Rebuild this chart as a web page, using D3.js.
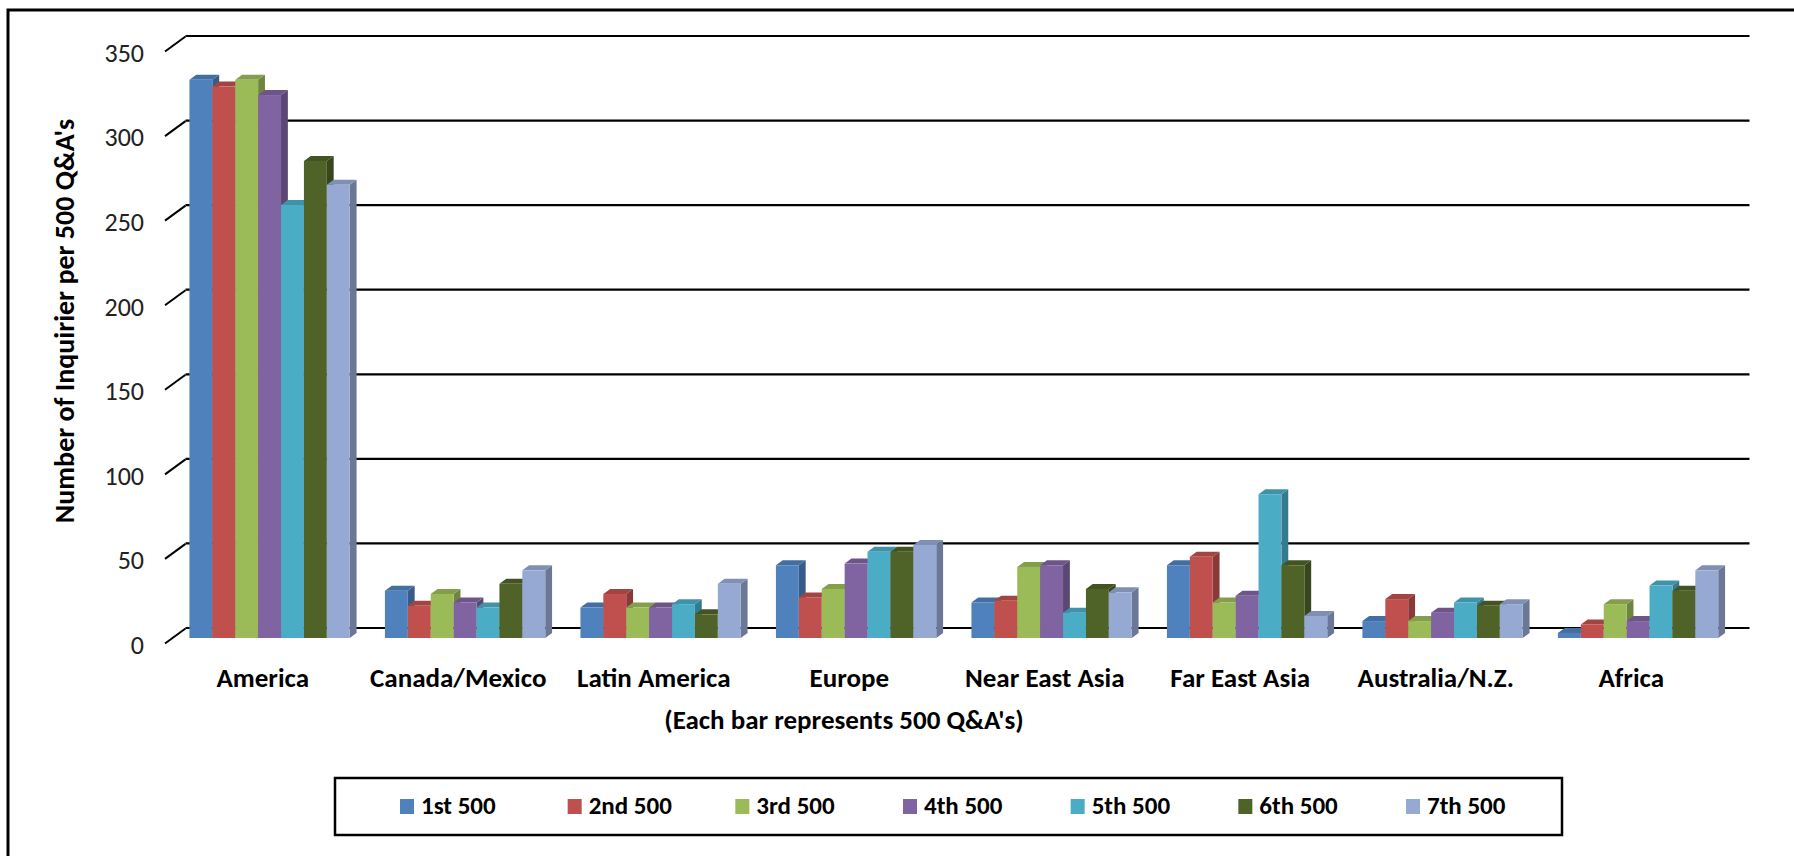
<!DOCTYPE html>
<html>
<head>
<meta charset="utf-8">
<script src="https://cdn.jsdelivr.net/npm/d3@7"></script>
<style>
  body { margin: 0; background: #fff; }
  text { font-family: Carlito, Calibri, Lato, "Open Sans", sans-serif; fill: #000; }
</style>
</head>
<body>
<div id="chart"></div>
<script>
var categories = ["America", "Canada/Mexico", "Latin America", "Europe", "Near East Asia", "Far East Asia", "Australia/N.Z.", "Africa"];
var seriesNames = ["1st 500", "2nd 500", "3rd 500", "4th 500", "5th 500", "6th 500", "7th 500"];
var seriesColors = ["#4f81bd", "#c0504d", "#9bbb59", "#8064a2", "#4bacc6", "#4f6228", "#95a9d3"];
var first500 = [330, 28, 18, 43, 21, 43, 10, 3];
var second500 = [326, 19, 26, 24, 22, 48, 23, 8];
var third500 = [330, 26, 18, 29, 42, 21, 10, 20];
var fourth500 = [321, 21, 18, 44, 43, 25, 15, 10];
var fifth500 = [256, 18, 20, 51, 15, 85, 21, 31];
var sixth500 = [282, 32, 14, 51, 29, 43, 19, 28];
var seventh500 = [268, 40, 32, 55, 27, 13, 20, 40];
var yTicks = [0, 50, 100, 150, 200, 250, 300, 350];

var seriesValues = [first500, second500, third500, fourth500, fifth500, sixth500, seventh500];

var width = 1794, height = 856;
// 3D look: the back wall sits up and to the right of the front plane
var depth = {dx: 20.5, dy: -15};
var barOff = {dx: depth.dx / 3, dy: depth.dy / 3};

var svg = d3.select("#chart").append("svg")
    .attr("width", width)
    .attr("height", height);

svg.append("rect")
    .attr("x", 8).attr("y", 10)
    .attr("width", 1810).attr("height", 900)
    .attr("fill", "none")
    .attr("stroke", "#000")
    .attr("stroke-width", 3);

var x = d3.scaleBand()
    .domain(categories)
    .range([165, 1729])
    .paddingInner(0.18)
    .paddingOuter(0.09);

var x1 = d3.scaleBand()
    .domain(seriesNames)
    .range([0, x.bandwidth()]);

var y = d3.scaleLinear()
    .domain([0, 350])
    .range([643, 51]);

// back wall gridlines
svg.append("g")
  .selectAll("line")
  .data(yTicks)
  .join("line")
    .attr("x1", 165 + depth.dx)
    .attr("x2", 1729 + depth.dx)
    .attr("y1", d => y(d) + depth.dy)
    .attr("y2", d => y(d) + depth.dy)
    .attr("stroke", "#000")
    .attr("stroke-width", 2.2);

// y axis with slanted ticks
var yAxis = svg.append("g")
    .attr("transform", "translate(165,0)")
    .call(d3.axisLeft(y).tickValues(yTicks).tickSize(0).tickPadding(21));
yAxis.select(".domain").remove();
yAxis.selectAll(".tick line").remove();
yAxis.selectAll(".tick").append("line")
    .attr("x1", 0).attr("y1", 0)
    .attr("x2", depth.dx).attr("y2", depth.dy)
    .attr("stroke", "#000")
    .attr("stroke-width", 2);
yAxis.selectAll(".tick text")
    .attr("dy", "0.4em")
    .style("font-size", "26px")
    .style("fill", "#222");

// bars, drawn left to right so each front face hides the previous side
var bars = [];
categories.forEach(function(cat, ci) {
  seriesNames.forEach(function(s, si) {
    bars.push({cat: cat, series: s, value: seriesValues[si][ci], color: seriesColors[si]});
  });
});

var barG = svg.append("g");
bars.forEach(function(b) {
  var x0 = x(b.cat) + x1(b.series) + barOff.dx;
  var w = x1.bandwidth();
  var yTop = y(b.value) + barOff.dy;
  var yBot = y(0) + barOff.dy;
  var c = d3.color(b.color);
  barG.append("path")
      .attr("d", "M" + (x0 + w) + "," + yBot + "L" + (x0 + w + barOff.dx) + "," + (yBot + barOff.dy) +
                 "L" + (x0 + w + barOff.dx) + "," + (yTop + barOff.dy) + "L" + (x0 + w) + "," + yTop + "Z")
      .attr("fill", c.darker(0.95));
  barG.append("path")
      .attr("d", "M" + x0 + "," + yTop + "L" + (x0 + barOff.dx) + "," + (yTop + barOff.dy) +
                 "L" + (x0 + w + barOff.dx) + "," + (yTop + barOff.dy) + "L" + (x0 + w) + "," + yTop + "Z")
      .attr("fill", c.darker(0.45));
  barG.append("rect")
      .attr("x", x0)
      .attr("y", yTop)
      .attr("width", w)
      .attr("height", yBot - yTop)
      .attr("fill", b.color);
});

// category labels
var xAxis = svg.append("g")
    .attr("transform", "translate(0," + y(0) + ")")
    .call(d3.axisBottom(x).tickSize(0));
xAxis.select(".domain").remove();
xAxis.selectAll(".tick text")
    .attr("y", 44)
    .attr("dy", 0)
    .style("font-size", "27px")
    .style("font-weight", "bold");

svg.append("text")
    .attr("transform", "translate(64,321) rotate(-90)")
    .attr("text-anchor", "middle")
    .attr("dominant-baseline", "central")
    .style("font-size", "28px")
    .style("font-weight", "bold")
    .text("Number of Inquirier per 500 Q&A's");

svg.append("text")
    .attr("x", 844)
    .attr("y", 729)
    .attr("text-anchor", "middle")
    .style("font-size", "27px")
    .style("font-weight", "bold")
    .text("(Each bar represents 500 Q&A's)");

// legend
svg.append("rect")
    .attr("x", 335).attr("y", 778)
    .attr("width", 1227).attr("height", 57)
    .attr("fill", "none")
    .attr("stroke", "#000")
    .attr("stroke-width", 2.5);

var legendX = d3.scaleLinear().domain([0, seriesNames.length - 1]).range([400, 1406]);
var legend = svg.append("g")
  .selectAll("g")
  .data(seriesNames)
  .join("g")
    .attr("transform", (d, i) => "translate(" + legendX(i) + ",799)");
legend.append("rect")
    .attr("width", 14).attr("height", 15)
    .attr("fill", (d, i) => seriesColors[i]);
legend.append("text")
    .attr("x", 21).attr("y", 15)
    .style("font-size", "25px")
    .style("font-weight", "bold")
    .text(d => d);
</script>
</body>
</html>
